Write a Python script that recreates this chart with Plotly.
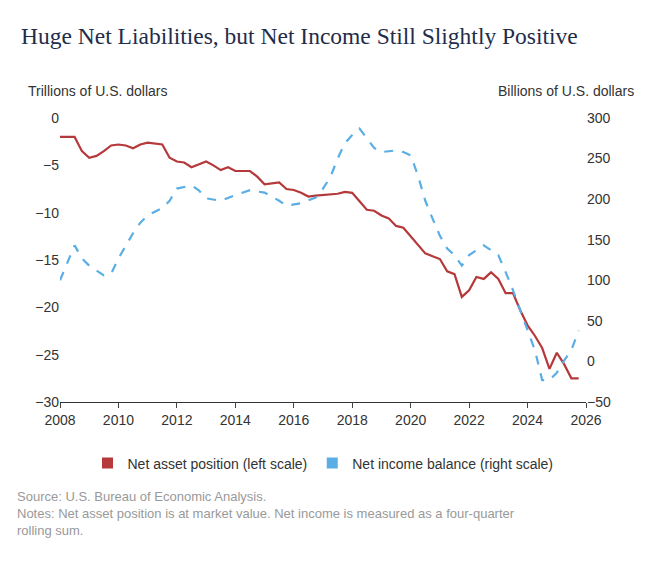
import plotly.graph_objects as go

red_x = [2008.0,2008.5,2008.75,2009,2009.25,2009.5,2009.75,2010,2010.25,2010.5,2010.75,2011,2011.5,2011.75,2012,2012.25,2012.5,2013,2013.25,2013.5,2013.75,2014,2014.5,2014.75,2015,2015.5,2015.75,2016,2016.25,2016.5,2016.75,2017.5,2017.75,2018,2018.25,2018.5,2018.75,2019,2019.25,2019.5,2019.75,2020,2020.5,2020.75,2021,2021.25,2021.5,2021.75,2022,2022.25,2022.5,2022.75,2023,2023.25,2023.5,2023.75,2024,2024.25,2024.5,2024.75,2025,2025.25,2025.5,2025.75]
red_y = [-2,-2,-3.5,-4.2,-4,-3.5,-2.9,-2.8,-2.9,-3.2,-2.8,-2.6,-2.8,-4.2,-4.6,-4.7,-5.2,-4.6,-5,-5.5,-5.2,-5.6,-5.6,-6.2,-7,-6.8,-7.5,-7.6,-7.9,-8.3,-8.2,-8,-7.8,-7.9,-8.8,-9.7,-9.8,-10.3,-10.6,-11.4,-11.6,-12.5,-14.3,-14.6,-14.9,-16.2,-16.5,-18.9,-18.2,-16.8,-17,-16.3,-17,-18.5,-18.5,-20.3,-21.9,-23,-24.3,-26.5,-24.8,-26,-27.5,-27.5]

blue_x = [2008,2008.5,2008.75,2009,2009.5,2009.75,2010,2010.5,2010.75,2011,2011.5,2011.75,2012,2012.5,2012.75,2013,2013.5,2014,2014.5,2015,2015.5,2015.75,2016.25,2016.75,2017,2017.25,2017.5,2017.75,2018,2018.25,2018.5,2018.75,2019,2019.5,2019.75,2020,2020.25,2020.5,2020.75,2021,2021.25,2021.5,2021.75,2022,2022.5,2022.75,2023,2023.25,2023.5,2023.75,2024,2024.25,2024.5,2024.75,2025,2025.25,2025.5,2025.75]
blue_y = [100,143,127,118,106,108,127,158,171,180,189,198,213,217,211,201,198,205,211,208,198,192,195,202,213,227,250,269,279,287,275,263,258,260,258,254,229,198,176,155,139,131,118,131,143,137,131,110,88,63,38,14,-23,-23,-14,1,14,38]

RED = "#b5383a"
BLUE = "#5aaee6"
fig = go.Figure()
fig.add_trace(go.Scatter(x=red_x, y=red_y, mode="lines", line=dict(color=RED, width=2.2), showlegend=False))
fig.add_trace(go.Scatter(x=blue_x, y=blue_y, mode="lines", line=dict(color=BLUE, width=2.2, dash="dash"),
                         yaxis="y2", showlegend=False))
fig.add_trace(go.Scatter(x=[None], y=[None], mode="markers", name="Net asset position (left scale)",
                         marker=dict(symbol="square", color=RED, size=11)))
fig.add_trace(go.Scatter(x=[None], y=[None], mode="markers", name="Net income balance (right scale)",
                         marker=dict(symbol="square", color=BLUE, size=11)))
fig.update_layout(
    width=650, height=563, margin=dict(l=52, r=72, t=110, b=169),
    paper_bgcolor="white", plot_bgcolor="white",
    font=dict(family="Liberation Sans, Arial", size=14, color="#333"),
    title=dict(text="Huge Net Liabilities, but Net Income Still Slightly Positive", x=0.02, y=0.965,
               xanchor="left", font=dict(family="Liberation Serif, Georgia, serif", size=23.5, color="#1f2d4a")),
    xaxis=dict(range=[2008, 2026], tickvals=list(range(2008, 2027, 2)), showgrid=False,
               showline=True, linecolor="#333", ticks="outside", ticklen=5, zeroline=False),
    yaxis=dict(range=[-30, 0], tickvals=list(range(-30, 1, 5)), showgrid=False, zeroline=False, ticks=""),
    yaxis2=dict(range=[-50, 300], tickvals=list(range(-50, 301, 50)), overlaying="y", side="right",
                showgrid=False, zeroline=False),
    legend=dict(orientation="h", x=0.5, xanchor="center", y=-0.16, yanchor="top", font=dict(size=14),
                itemwidth=30),
    showlegend=True,
)
fig.add_annotation(text="Trillions of U.S. dollars", xref="paper", yref="paper", x=-0.065, y=1.13,
                   xanchor="left", showarrow=False, font=dict(size=14))
fig.add_annotation(text="Billions of U.S. dollars", xref="paper", yref="paper", x=1.095, y=1.13,
                   xanchor="right", showarrow=False, font=dict(size=14))
fig.add_annotation(text="Source: U.S. Bureau of Economic Analysis.<br>Notes: Net asset position is at market value. Net income is measured as a four-quarter<br>rolling sum.",
                   xref="paper", yref="paper", x=-0.085, y=-0.3, xanchor="left", yanchor="top", align="left",
                   showarrow=False, font=dict(size=13, color="#999"))
fig.write_html("out.html")
